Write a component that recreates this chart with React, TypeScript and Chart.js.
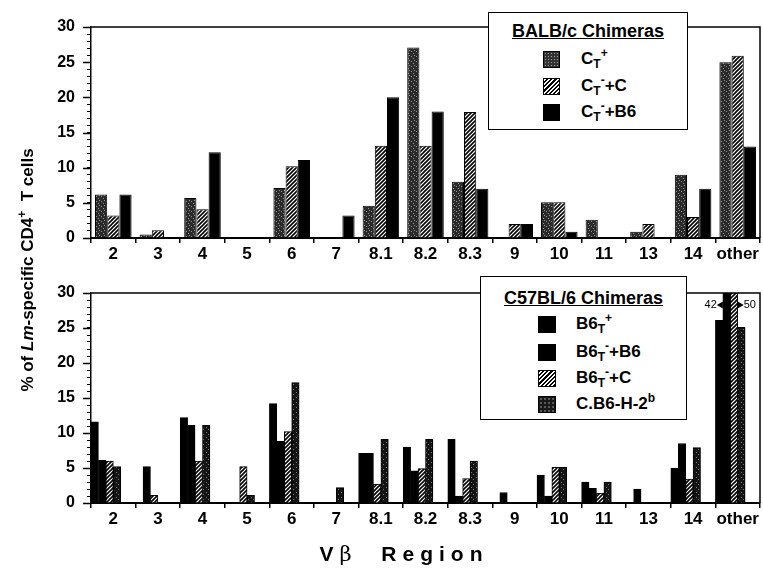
import React, { useEffect, useRef } from "react";
import { Chart, registerables } from "chart.js";

Chart.register(...registerables);

// ---------- data ----------
const categories = ["2", "3", "4", "5", "6", "7", "8.1", "8.2", "8.3", "9", "10", "11", "13", "14", "other"];

// BALB/c chimeras (top panel)
const balbCTplus = [6.2, 0.5, 5.7, 0, 7.1, 0, 4.6, 27.1, 8.0, 0, 5.1, 2.6, 0.9, 9.0, 25.0];
const balbCTminusC = [3.2, 1.1, 4.1, 0, 10.2, 0, 13.1, 13.1, 17.9, 2.0, 5.1, 0, 2.0, 3.0, 25.9];
const balbCTminusB6 = [6.2, 0, 12.2, 0, 11.1, 3.2, 20.0, 18.0, 7.0, 2.0, 0.9, 0, 0, 7.0, 13.0];

// C57BL/6 chimeras (bottom panel)
const b6Tplus = [11.6, 0, 12.2, 0, 14.2, 0, 7.1, 8.0, 9.1, 0, 4.0, 3.0, 0, 5.0, 26.1];
const b6TminusB6 = [6.1, 5.2, 11.1, 0, 8.8, 0, 7.1, 4.6, 1.0, 1.5, 1.0, 2.1, 2.0, 8.5, 42];
const b6TminusC = [6.0, 1.1, 6.0, 5.2, 10.2, 0, 2.7, 4.9, 3.5, 0, 5.1, 1.4, 0, 3.4, 50];
const cb6H2b = [5.2, 0, 11.1, 1.1, 17.2, 2.2, 9.1, 9.1, 6.0, 0, 5.1, 3.0, 0, 7.9, 25.1];

const yMin = 0;
const yMax = 30;
const yMajorStep = 5;
const yMinorStep = 1;

const FONT = '"Liberation Sans", Arial, Helvetica, sans-serif';

// ---------- patterns ----------
function makeHatch(): any {
  const s = 4;
  const c = document.createElement("canvas");
  c.width = s;
  c.height = s;
  const g = c.getContext("2d");
  if (!g) return "#888";
  g.fillStyle = "#fff";
  g.fillRect(0, 0, s, s);
  g.strokeStyle = "#000";
  g.lineWidth = 1.6;
  g.beginPath();
  g.moveTo(-1, s + 1);
  g.lineTo(s + 1, -1);
  g.moveTo(-1, 1);
  g.lineTo(1, -1);
  g.moveTo(s - 1, s + 1);
  g.lineTo(s + 1, s - 1);
  g.stroke();
  return g.createPattern(c, "repeat") || "#888";
}

function makeStipple(base: string, speck: string, dots: number[][]): any {
  const s = 5;
  const c = document.createElement("canvas");
  c.width = s;
  c.height = s;
  const g = c.getContext("2d");
  if (!g) return base;
  g.fillStyle = base;
  g.fillRect(0, 0, s, s);
  g.fillStyle = speck;
  dots.forEach(([x, y]) => g.fillRect(x, y, 1, 1));
  return g.createPattern(c, "repeat") || base;
}

// ---------- plugins ----------
const framePlugin = {
  id: "frame",
  afterDatasetsDraw(chart: any) {
    const { left, right, top, bottom } = chart.chartArea;
    const ctx = chart.ctx;
    ctx.save();
    ctx.strokeStyle = "#000";
    ctx.lineWidth = 1.5;
    ctx.beginPath();
    ctx.moveTo(left, top);
    ctx.lineTo(right, top);
    ctx.lineTo(right, bottom);
    ctx.stroke();
    ctx.restore();
  },
};

const majorTickPlugin = {
  id: "majorTicks",
  afterDraw(chart: any) {
    const y = chart.scales.y;
    const ctx = chart.ctx;
    const left = chart.chartArea.left;
    ctx.save();
    ctx.strokeStyle = "#000";
    ctx.lineWidth = 1.5;
    for (let v = yMin; v <= yMax; v += yMajorStep) {
      const py = Math.round(y.getPixelForValue(v)) + 0.5;
      ctx.beginPath();
      ctx.moveTo(left - 8, py);
      ctx.lineTo(left, py);
      ctx.stroke();
    }
    ctx.restore();
  },
};

const clippedPlugin = {
  id: "clippedLabels",
  afterDraw(chart: any) {
    const ctx = chart.ctx;
    const top = chart.chartArea.top;
    const perCat: Record<number, { el: any; v: number }[]> = {};
    chart.data.datasets.forEach((ds: any, di: number) => {
      const meta = chart.getDatasetMeta(di);
      (ds.data as number[]).forEach((v, i) => {
        if (typeof v === "number" && v > yMax && meta.data[i]) {
          (perCat[i] = perCat[i] || []).push({ el: meta.data[i], v });
        }
      });
    });
    ctx.save();
    ctx.fillStyle = "#000";
    ctx.font = `11px ${FONT}`;
    ctx.textBaseline = "middle";
    const ty = top + 12;
    Object.values(perCat).forEach((list) => {
      list.forEach((item, k) => {
        const { x, width } = item.el.getProps(["x", "width"], true);
        if (k === 0) {
          const bl = x - width / 2;
          ctx.beginPath();
          ctx.moveTo(bl - 6, ty);
          ctx.lineTo(bl, ty - 3.5);
          ctx.lineTo(bl, ty + 3.5);
          ctx.closePath();
          ctx.fill();
          ctx.textAlign = "right";
          ctx.fillText(String(item.v), bl - 6, ty);
        } else {
          const br = x + width / 2;
          ctx.beginPath();
          ctx.moveTo(br + 6, ty);
          ctx.lineTo(br, ty - 3.5);
          ctx.lineTo(br, ty + 3.5);
          ctx.closePath();
          ctx.fill();
          ctx.textAlign = "left";
          ctx.fillText(String(item.v), br + 6, ty);
        }
      });
    });
    ctx.restore();
  },
};

// ---------- options ----------
function panelOptions(padTop: number, xAxisHeight: number, catPct: number): any {
  return {
    animation: false,
    responsive: false,
    maintainAspectRatio: false,
    layout: { padding: { left: 0, right: 3, top: padTop, bottom: 0 } },
    datasets: { bar: { barPercentage: 1, categoryPercentage: catPct } },
    plugins: { legend: { display: false }, tooltip: { enabled: false }, title: { display: false } },
    scales: {
      x: {
        type: "category",
        offset: true,
        grid: { offset: true, drawOnChartArea: false, drawTicks: true, tickLength: 5, color: "#000", lineWidth: 1.5 },
        border: { display: true, color: "#000", width: 2 },
        ticks: {
          color: "#000",
          font: { family: FONT, size: 17, weight: "bold" },
          padding: 1,
          autoSkip: false,
          maxRotation: 0,
          minRotation: 0,
        },
        afterFit: (s: any) => {
          s.height = xAxisHeight;
        },
      },
      y: {
        min: yMin,
        max: yMax,
        grid: { drawOnChartArea: false, drawTicks: true, tickLength: 4, color: "#000", lineWidth: 1 },
        border: { display: true, color: "#000", width: 1.5 },
        ticks: {
          stepSize: yMinorStep,
          autoSkip: false,
          color: "#000",
          font: { family: FONT, size: 16, weight: "bold" },
          padding: 12,
          callback: (v: any) => (Number(v) % yMajorStep === 0 ? String(v) : ""),
        },
        afterFit: (s: any) => {
          s.width = 91;
        },
      },
    },
  };
}

function barSet(label: string, data: number[], fill: any): any {
  return { label, data, backgroundColor: fill, borderColor: "#000", borderWidth: 1 };
}

// ---------- legend (HTML) ----------
const hatchCss = "repeating-linear-gradient(-45deg, #000 0 1.5px, #fff 1.5px 3px)";
const stippleTopCss = "radial-gradient(#9a9a9a 0.6px, transparent 0.9px) 0 0 / 3px 3px, #333";
const stippleBotCss = "radial-gradient(#7a7a7a 0.6px, transparent 0.9px) 0 0 / 4px 4px, #181818";

function Swatch({ bg, left, top, w, h }: { bg: string; left: number; top: number; w: number; h: number }) {
  return (
    <div
      style={{
        position: "absolute",
        left,
        top: top - h / 2,
        width: w,
        height: h,
        background: bg,
        border: "1px solid #000",
        boxSizing: "border-box",
      }}
    />
  );
}

function Row({ y, x, children }: { y: number; x: number; children: React.ReactNode }) {
  return (
    <div
      style={{
        position: "absolute",
        left: x,
        top: y - 12,
        height: 24,
        lineHeight: "24px",
        fontFamily: FONT,
        fontWeight: "bold",
        fontSize: 17,
        whiteSpace: "nowrap",
      }}
    >
      {children}
    </div>
  );
}

const subStyle: React.CSSProperties = { fontSize: 12, verticalAlign: "-4px", lineHeight: 0 };
const supStyle: React.CSSProperties = { fontSize: 12, verticalAlign: "7px", lineHeight: 0 };

function LegendBox(props: {
  left: number;
  top: number;
  width: number;
  height: number;
  title: string;
  titleY: number;
  children: React.ReactNode;
}) {
  return (
    <div
      style={{
        position: "absolute",
        left: props.left,
        top: props.top,
        width: props.width,
        height: props.height,
        background: "#fff",
        border: "1.5px solid #000",
        boxSizing: "border-box",
      }}
    >
      <div
        style={{
          position: "absolute",
          left: 0,
          width: "100%",
          top: props.titleY - 12,
          height: 24,
          lineHeight: "24px",
          textAlign: "center",
          fontFamily: FONT,
          fontWeight: "bold",
          fontSize: 18,
          textDecoration: "underline",
          whiteSpace: "nowrap",
        }}
      >
        {props.title}
      </div>
      {props.children}
    </div>
  );
}

export default function App() {
  const topRef = useRef<HTMLCanvasElement>(null);
  const botRef = useRef<HTMLCanvasElement>(null);

  useEffect(() => {
    const hatch = makeHatch();
    const stippleTop = makeStipple("#2a2a2a", "#959595", [
      [1, 1],
      [3, 3],
      [4, 0],
    ]);
    const stippleBot = makeStipple("#141414", "#7a7a7a", [
      [1, 2],
      [3, 4],
    ]);

    const topChart = new Chart(topRef.current as HTMLCanvasElement, {
      type: "bar",
      data: {
        labels: categories,
        datasets: [
          barSet("CT+", balbCTplus, stippleTop),
          barSet("CT-+C", balbCTminusC, hatch),
          barSet("CT-+B6", balbCTminusB6, "#000"),
        ],
      },
      options: panelOptions(27, 27, 0.82),
      plugins: [framePlugin, majorTickPlugin],
    } as any);

    const bottomChart = new Chart(botRef.current as HTMLCanvasElement, {
      type: "bar",
      data: {
        labels: categories,
        datasets: [
          barSet("B6T+", b6Tplus, "#000"),
          barSet("B6T-+B6", b6TminusB6, "#000"),
          barSet("B6T-+C", b6TminusC, hatch),
          barSet("C.B6-H-2b", cb6H2b, stippleBot),
          { label: "", data: [] },
          { label: "", data: [] },
        ],
      },
      options: panelOptions(28, 65, 1.0),
      plugins: [framePlugin, majorTickPlugin, clippedPlugin],
    } as any);

    return () => {
      topChart.destroy();
      bottomChart.destroy();
    };
  }, []);

  return (
    <div style={{ position: "absolute", left: 0, top: 0, width: 763, height: 568, background: "#fff", overflow: "hidden" }}>
      <canvas
        ref={topRef}
        width={763}
        height={265}
        style={{ position: "absolute", left: 0, top: 0, width: 763, height: 265 }}
      />
      <canvas
        ref={botRef}
        width={763}
        height={303}
        style={{ position: "absolute", left: 0, top: 265, width: 763, height: 303 }}
      />

      <LegendBox left={488} top={12} width={200} height={118} title="BALB/c Chimeras" titleY={18}>
        <Swatch bg={stippleTopCss} left={54} top={46} w={17} h={17} />
        <Row x={92} y={46}>
          C<sub style={subStyle}>T</sub>
          <sup style={supStyle}>+</sup>
        </Row>
        <Swatch bg={hatchCss} left={54} top={73} w={17} h={17} />
        <Row x={92} y={73}>
          C<sub style={subStyle}>T</sub>
          <sup style={supStyle}>-</sup>+C
        </Row>
        <Swatch bg="#000" left={54} top={99} w={17} h={17} />
        <Row x={92} y={99}>
          C<sub style={subStyle}>T</sub>
          <sup style={supStyle}>-</sup>+B6
        </Row>
      </LegendBox>

      <LegendBox left={480} top={276} width={207} height={144} title="C57BL/6 Chimeras" titleY={21}>
        <Swatch bg="#000" left={57} top={47} w={18} h={17} />
        <Row x={95} y={47}>
          B6<sub style={subStyle}>T</sub>
          <sup style={supStyle}>+</sup>
        </Row>
        <Swatch bg="#000" left={57} top={75} w={18} h={17} />
        <Row x={95} y={75}>
          B6<sub style={subStyle}>T</sub>
          <sup style={supStyle}>-</sup>+B6
        </Row>
        <Swatch bg={hatchCss} left={57} top={101} w={18} h={17} />
        <Row x={95} y={101}>
          B6<sub style={subStyle}>T</sub>
          <sup style={supStyle}>-</sup>+C
        </Row>
        <Swatch bg={stippleBotCss} left={57} top={127} w={18} h={17} />
        <Row x={95} y={127}>
          C.B6-H-2<sup style={supStyle}>b</sup>
        </Row>
      </LegendBox>

      <div
        style={{
          position: "absolute",
          left: 28 - 200,
          top: 270 - 12,
          width: 400,
          height: 24,
          lineHeight: "24px",
          textAlign: "center",
          transform: "rotate(-90deg)",
          fontFamily: FONT,
          fontWeight: "bold",
          fontSize: 17,
          whiteSpace: "nowrap",
        }}
      >
        % of <i>Lm</i>-specific CD4<sup style={{ fontSize: 12, verticalAlign: "7px", lineHeight: 0 }}>+</sup>&nbsp; T cells
      </div>

      <div
        style={{
          position: "absolute",
          left: 401 - 200,
          top: 554 - 13,
          width: 400,
          height: 26,
          lineHeight: "26px",
          textAlign: "center",
          fontFamily: FONT,
          fontWeight: "bold",
          fontSize: 21,
          letterSpacing: "6px",
          paddingLeft: 6,
          boxSizing: "border-box",
          whiteSpace: "nowrap",
        }}
      >
        V<span style={{ fontWeight: "normal", fontFamily: '"DejaVu Serif", serif' }}>β</span>&nbsp; Region
      </div>
    </div>
  );
}
